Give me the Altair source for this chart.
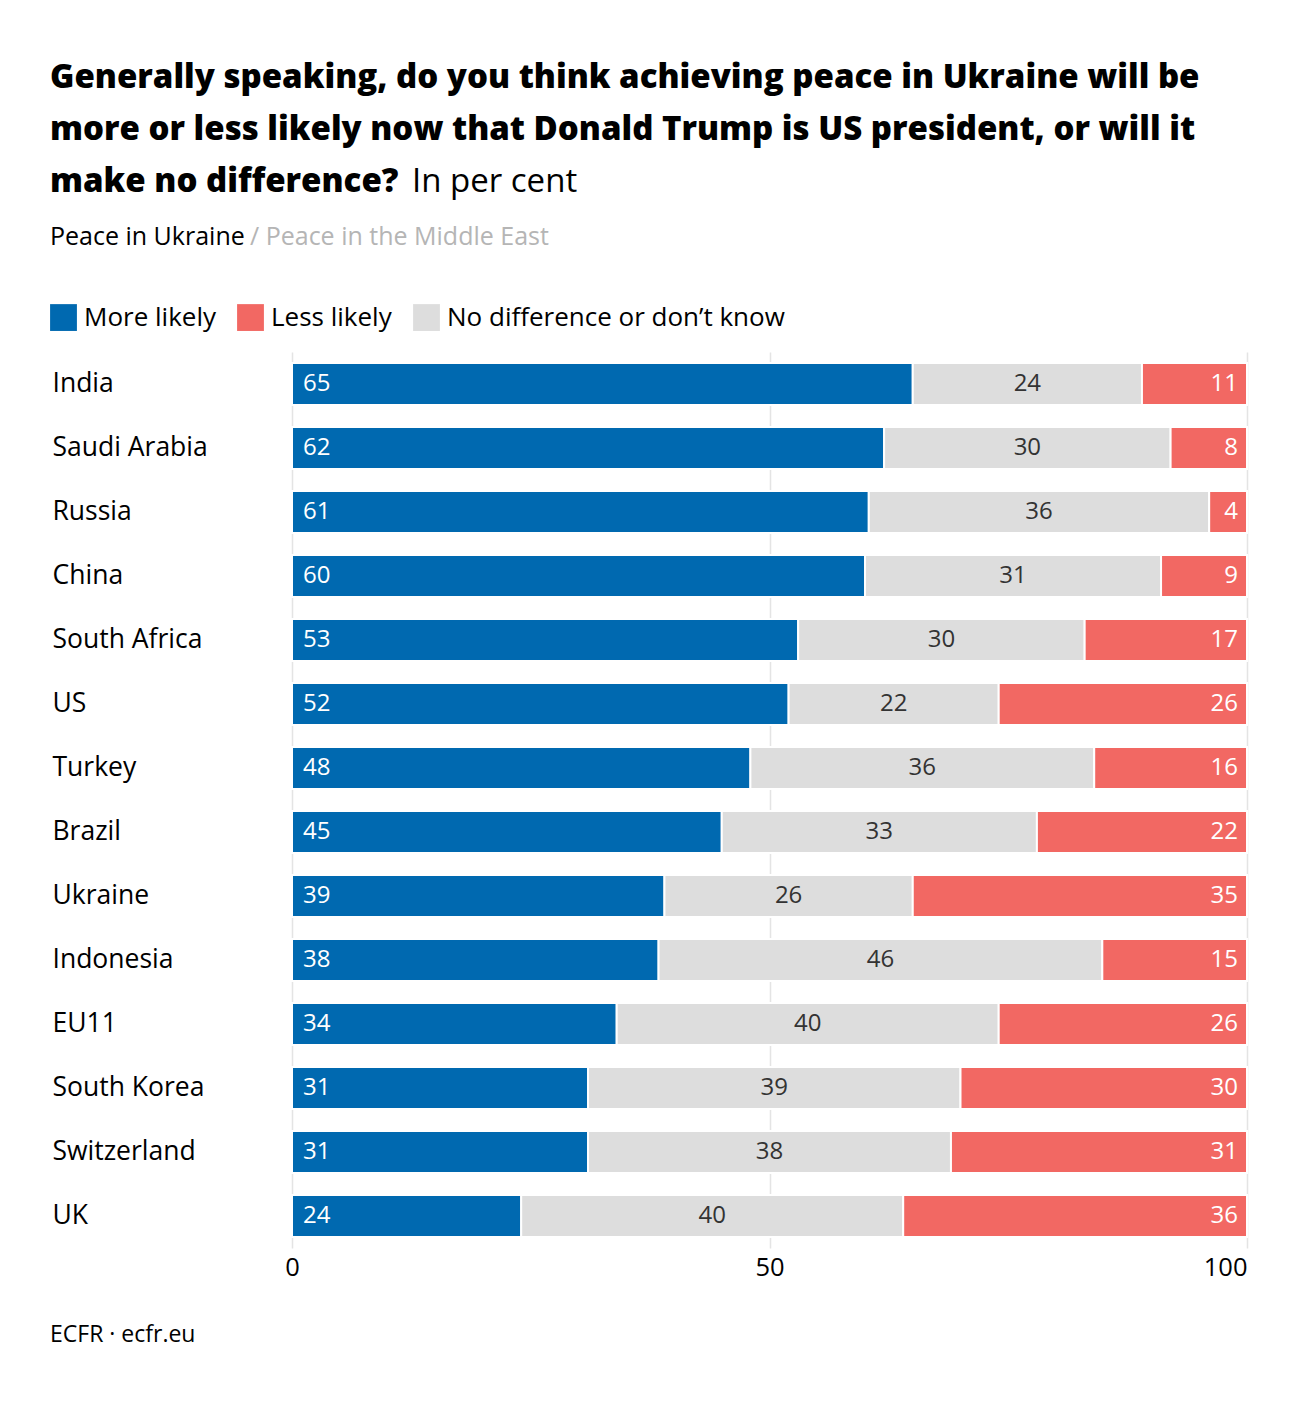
import altair as alt
import pandas as pd

countries = ["India", "Saudi Arabia", "Russia", "China", "South Africa", "US", "Turkey",
             "Brazil", "Ukraine", "Indonesia", "EU11", "South Korea", "Switzerland", "UK"]
more_likely = [65, 62, 61, 60, 53, 52, 48, 45, 39, 38, 34, 31, 31, 24]
no_difference = [24, 30, 36, 31, 30, 22, 36, 33, 26, 46, 40, 39, 38, 40]
less_likely = [11, 8, 4, 9, 17, 26, 16, 22, 35, 15, 26, 30, 31, 36]

cat_more = "More likely"
cat_less = "Less likely"
cat_none = "No difference or don\u2019t know"
stack_order = [cat_more, cat_none, cat_less]
legend_order = [cat_more, cat_less, cat_none]
legend_colors = ["#0069b0", "#f26863", "#dddddd"]
axis_ticks = [0, 50, 100]

title_lines = [
    "Generally speaking, do you think achieving peace in Ukraine will be",
    "more or less likely now that Donald Trump is US president, or will it",
    "make no difference?",
]
title_tail = "In per cent"
subtitle_main = "Peace in Ukraine"
subtitle_alt = "/ Peace in the Middle East"
footer = "ECFR \u00b7 ecfr.eu"

FONT = "Open Sans"

rows = []
for i, c in enumerate(countries):
    for k, (cat, vals) in enumerate(zip(stack_order, [more_likely, no_difference, less_likely])):
        rows.append({"country": c, "category": cat, "value": vals[i], "order": k})
df = pd.DataFrame(rows)

base = (
    alt.Chart(df)
    .transform_stack(stack="value", groupby=["country"], as_=["s0", "s1"],
                     sort=[alt.SortField("order", order="ascending")], offset="normalize")
    .transform_calculate(x0="datum.s0*100", x1="datum.s1*100", xm="(datum.s0+datum.s1)*50")
)

x_scale = alt.Scale(domain=[0, 100], nice=False, zero=True)
x_axis = alt.Axis(
    values=axis_ticks, domain=False, ticks=False, grid=True, gridColor="#e4e4e4", gridWidth=1.5,
    labelFontSize=25.5, labelColor="#000000", labelPadding=7, labelFont=FONT,
    labelAlign={"condition": {"test": "datum.value == 100", "value": "right"}, "value": "center"},
    title=None,
)
y_enc = alt.Y(
    "country:N", sort=countries, title=None,
    scale=alt.Scale(paddingInner=0.34375, paddingOuter=0.171875),
    axis=alt.Axis(domain=False, ticks=False, labelAlign="left", labelPadding=240,
                  labelFontSize=26.5, labelColor="#000000", labelFont=FONT, grid=False,
                  labelLimit=0),
)

bars = base.mark_bar(stroke="white", strokeWidth=2).encode(
    x=alt.X("x0:Q", scale=x_scale, axis=x_axis),
    x2="x1:Q",
    y=y_enc,
    color=alt.Color(
        "category:N",
        scale=alt.Scale(domain=legend_order, range=legend_colors),
        sort=legend_order,
        legend=alt.Legend(
            orient="none", legendX=-242, legendY=-48, direction="horizontal", title=None,
            symbolType="square", symbolSize=720, symbolStrokeWidth=0, symbolOpacity=1,
            labelFontSize=26, labelColor="#000000", labelFont=FONT, labelOffset=7,
            labelLimit=0, columnPadding=21, padding=0,
        ),
    ),
)

txt_more = base.transform_filter(alt.datum.category == cat_more).mark_text(
    align="left", baseline="middle", dx=11, color="white", fontSize=24, font=FONT
).encode(x=alt.X("x0:Q", scale=x_scale, axis=x_axis), y=y_enc, text="value:Q")

txt_none = base.transform_filter(alt.datum.category == cat_none).mark_text(
    align="center", baseline="middle", color="#333333", fontSize=24, font=FONT
).encode(x=alt.X("xm:Q", scale=x_scale, axis=x_axis), y=y_enc, text="value:Q")

txt_less = base.transform_filter(alt.datum.category == cat_less).mark_text(
    align="right", baseline="middle", dx=-9, color="white", fontSize=24, font=FONT
).encode(x=alt.X("x1:Q", scale=x_scale, axis=x_axis), y=y_enc, text="value:Q")


def label(text, x, y, size, weight="normal", color="#000000"):
    return alt.Chart(pd.DataFrame({"t": [text]})).mark_text(
        align="left", baseline="middle", fontSize=size, fontWeight=weight, color=color, font=FONT
    ).encode(x=alt.value(x), y=alt.value(y), text="t:N")


header = [
    label(title_lines[0], -242, -274, 33, 800),
    label(title_lines[1], -242, -222, 33, 800),
    label(title_lines[2], -242, -170, 33, 800),
    label(title_tail, 120, -170, 33),
    label(subtitle_main, -242, -115, 25),
    label(subtitle_alt, -42, -115, 25, color="#b5b5b5"),
    label(footer, -242, 983, 23),
]

chart = (
    alt.layer(bars, txt_more, txt_none, txt_less, *header)
    .properties(
        width=955, height=896,
        autosize=alt.AutoSizeParams(type="none"),
        padding={"left": 284, "top": 344, "right": 40, "bottom": 140},
    )
    .configure(font=FONT)
    .configure_view(stroke=None)
)

chart.save("out.html", embed_options={"renderer": "svg", "actions": False})
